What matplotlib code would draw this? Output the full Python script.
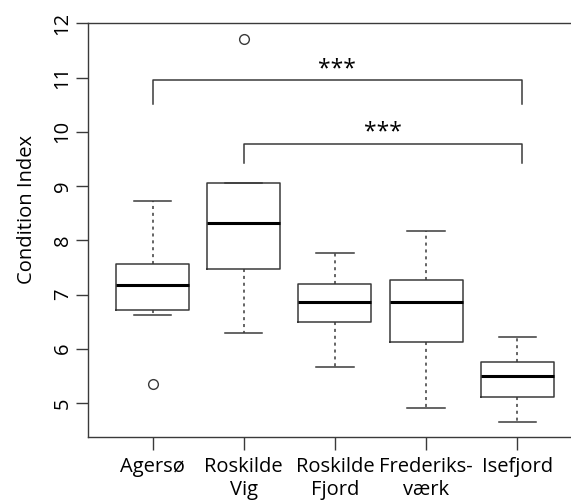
import matplotlib
matplotlib.use('Agg')
import matplotlib.pyplot as plt

plt.rcParams['font.family'] = ['Open Sans', 'DejaVu Sans']

sites = ['Agersø', 'Roskilde\nVig', 'Roskilde\nFjord', 'Frederiks-\nværk', 'Isefjord']
whislo = [6.62, 6.29, 5.67, 4.91, 4.65]
q1 = [6.72, 7.47, 6.50, 6.12, 5.11]
med = [7.18, 8.31, 6.87, 6.86, 5.49]
q3 = [7.56, 9.05, 7.20, 7.27, 5.75]
whishi = [8.72, 9.05, 7.76, 8.17, 6.21]
fliers = [[5.35], [11.72], [], [], []]

# significance brackets: (start, end, height, drop, label y)
brackets = [(1, 5.05, 10.95, 10.51, 11.15), (2, 5.05, 9.78, 9.42, 9.99)]
stars = ['***', '***']

col = '#3a3a3a'

stats = []
for i in range(len(sites)):
    stats.append(dict(whislo=whislo[i], q1=q1[i], med=med[i], q3=q3[i],
                      whishi=whishi[i], fliers=fliers[i]))

fig = plt.figure(figsize=(5.71, 5.03), dpi=100)
ax = fig.add_axes([0.154, 0.131, 0.846, 0.8225])

ax.bxp(stats, positions=range(1, 6), widths=0.8, showfliers=True,
       boxprops=dict(color=col, linewidth=1.1),
       medianprops=dict(color='black', linewidth=2.2),
       whiskerprops=dict(color=col, linewidth=1.1, linestyle=(0, (2, 2.5))),
       capprops=dict(color=col, linewidth=1.1),
       capwidths=0.41,
       flierprops=dict(marker='o', markerfacecolor='none', markeredgecolor=col,
                       markersize=7, markeredgewidth=1.0))

for (x0, x1, h, d, ty), s in zip(brackets, stars):
    ax.plot([x0, x0, x1, x1], [d, h, h, d], color=col, linewidth=1.1)
    ax.text((x0 + x1) / 2, ty, s, ha='center', va='center', fontsize=16.5)

ax.set_xlim(0.29, 5.59)
ax.set_ylim(4.37, 12.0)
ax.set_yticks(range(5, 13))
ax.set_yticklabels([str(v) for v in range(5, 13)], rotation=90, va='center')
ax.set_xticks(range(1, 6))
ax.set_xticklabels(sites, linespacing=1.2)
ax.tick_params(axis='both', labelsize=14.5, length=9, width=1.0, color=col)
ax.tick_params(axis='y', pad=2)
ax.tick_params(axis='x', pad=5)
ax.set_ylabel('Condition Index', fontsize=14.5)
ax.yaxis.set_label_coords(-0.106, 0.549)

for sp in ['left', 'bottom', 'top']:
    ax.spines[sp].set_color(col)
    ax.spines[sp].set_linewidth(1.0)
ax.spines['right'].set_visible(False)

fig.savefig('out.png', dpi=100)
